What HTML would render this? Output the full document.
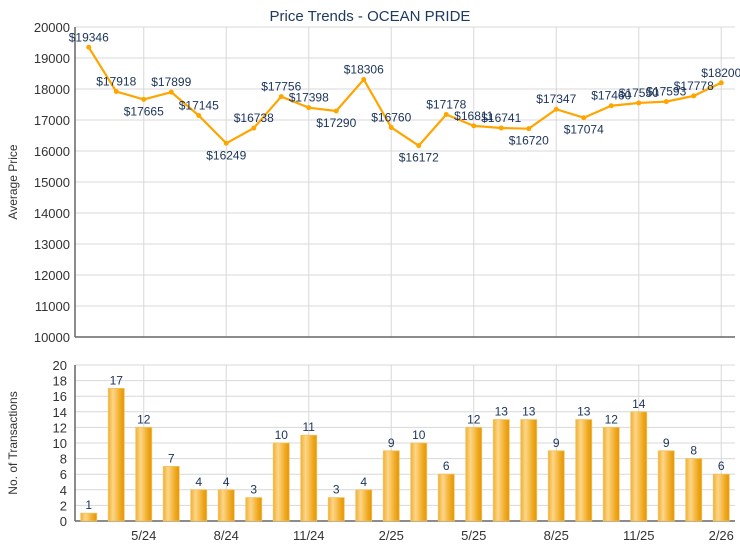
<!DOCTYPE html>
<html><head><meta charset="utf-8"><style>
body{margin:0;background:#fff;}
svg{display:block;font-family:"Liberation Sans",sans-serif;}
</style></head><body>
<svg id="c" width="740" height="550">
<defs>
<linearGradient id="bg" x1="0" x2="1" y1="0" y2="0">
<stop offset="0" stop-color="#f0b030"/><stop offset="0.3" stop-color="#fdd68a"/><stop offset="0.7" stop-color="#f2ae2a"/><stop offset="1" stop-color="#e29500"/>
</linearGradient>
</defs>
<text x="370" y="21" text-anchor="middle" font-size="15" fill="#1f3a60">Price Trends - OCEAN PRIDE</text>
<g id="gtop"></g><g id="gbot"></g>
</svg>
<script>
const categories=["3/24","4/24","5/24","6/24","7/24","8/24","9/24","10/24","11/24","12/24","1/25","2/25","3/25","4/25","5/25","6/25","7/25","8/25","9/25","10/25","11/25","12/25","1/26","2/26"];
const prices=[19346,17918,17665,17899,17145,16249,16738,17756,17398,17290,18306,16760,16172,17178,16811,16741,16720,17347,17074,17460,17550,17593,17778,18200];
const counts=[1,17,12,7,4,4,3,10,11,3,4,9,10,6,12,13,13,9,13,12,14,9,8,6];
const priceTicks=[10000,11000,12000,13000,14000,15000,16000,17000,18000,19000,20000];
const countTicks=[0,2,4,6,8,10,12,14,16,18,20];
const xLabels=["5/24","8/24","11/24","2/25","5/25","8/25","11/25","2/26"];
const NS="http://www.w3.org/2000/svg";
const L=75,R=735,T1=27,B1=337,T2=365,B2=521;
const step=(R-L)/categories.length;
const xc=i=>L+step*(i+0.5);
const y1=v=>B1-(v-10000)/10000*(B1-T1);
const y2=v=>B2-v/20*(B2-T2);
function mk(p,tag,a,txt){const e=document.createElementNS(NS,tag);for(const k in a)e.setAttribute(k,a[k]);if(txt!=null)e.textContent=txt;p.appendChild(e);return e;}
const gTop=document.getElementById('gtop'),gBot=document.getElementById('gbot');
priceTicks.forEach(t=>{
 const g=mk(gTop,'line',{x1:L,x2:R,y1:y1(t),y2:y1(t),stroke:'#d8d8d8','stroke-width':1});
 
 
 const tx=mk(gTop,'text',{x:L-5,y:y1(t)+5,'text-anchor':'end','font-size':13,fill:'#333'},t);
 
 
});
countTicks.forEach(t=>{
 const g=mk(gBot,'line',{x1:L,x2:R,y1:y2(t),y2:y2(t),stroke:'#d8d8d8','stroke-width':1});
 
 
 const tx=mk(gBot,'text',{x:L-8,y:y2(t)+5,'text-anchor':'end','font-size':13,fill:'#333'},t);
 
 
});
xLabels.forEach(lb=>{
 const i=categories.indexOf(lb);const x=xc(i);
 const a=mk(gTop,'line',{x1:x,x2:x,y1:T1,y2:B1,stroke:'#d8d8d8'});
 
 
 const b=mk(gBot,'line',{x1:x,x2:x,y1:T2,y2:B2,stroke:'#d8d8d8'});
 
 
 const t=mk(gBot,'text',{x:x,y:B2+19,'text-anchor':'middle','font-size':13,fill:'#333'},lb);
 
 
});
[[gTop,T1,B1],[gBot,T2,B2]].forEach(([g,t,b])=>{
 const a=mk(g,'line',{x1:L,x2:L,y1:t,y2:b,stroke:'#666','stroke-width':1.5});
 
 
 const c=mk(g,'line',{x1:L,x2:R,y1:b,y2:b,stroke:'#666','stroke-width':1.5});
 
 
});
const yt1=mk(gTop,'text',{x:0,y:0,transform:`translate(17,${(T1+B1)/2}) rotate(-90)`,'text-anchor':'middle','font-size':12,fill:'#333'},'Average Price');


const yt2=mk(gBot,'text',{x:0,y:0,transform:`translate(17,${(T2+B2)/2}) rotate(-90)`,'text-anchor':'middle','font-size':12,fill:'#333'},'No. of Transactions');


const pl=mk(gTop,'polyline',{points:prices.map((v,i)=>xc(i)+','+y1(v)).join(' '),fill:'none',stroke:'#ffa500','stroke-width':2.2,'stroke-linejoin':'round'});


prices.forEach((v,i)=>{
 const d=mk(gTop,'circle',{cx:xc(i),cy:y1(v),r:2.5,fill:'#ffa500'});
 
 
 const prev=i>0?prices[i-1]:Infinity,next=i<prices.length-1?prices[i+1]:Infinity;
 const below=v<prev&&v<next;
 const t=mk(gTop,'text',{x:xc(i),y:y1(v)+(below?16:-6),'text-anchor':'middle','font-size':12,fill:'#1a3358'},'$'+v);
 
 
});
counts.forEach((v,i)=>{
 const w=16,x=xc(i)-w/2;
 const r=mk(gBot,'rect',{x:x,y:y2(v),width:w,height:B2-y2(v),fill:'url(#bg)',stroke:'#f5c060','stroke-width':0.8});
 
 
 const t=mk(gBot,'text',{x:xc(i),y:y2(v)-4,'text-anchor':'middle','font-size':12,fill:'#1a3358'},v);
 
 
});
</script>
</body></html>
